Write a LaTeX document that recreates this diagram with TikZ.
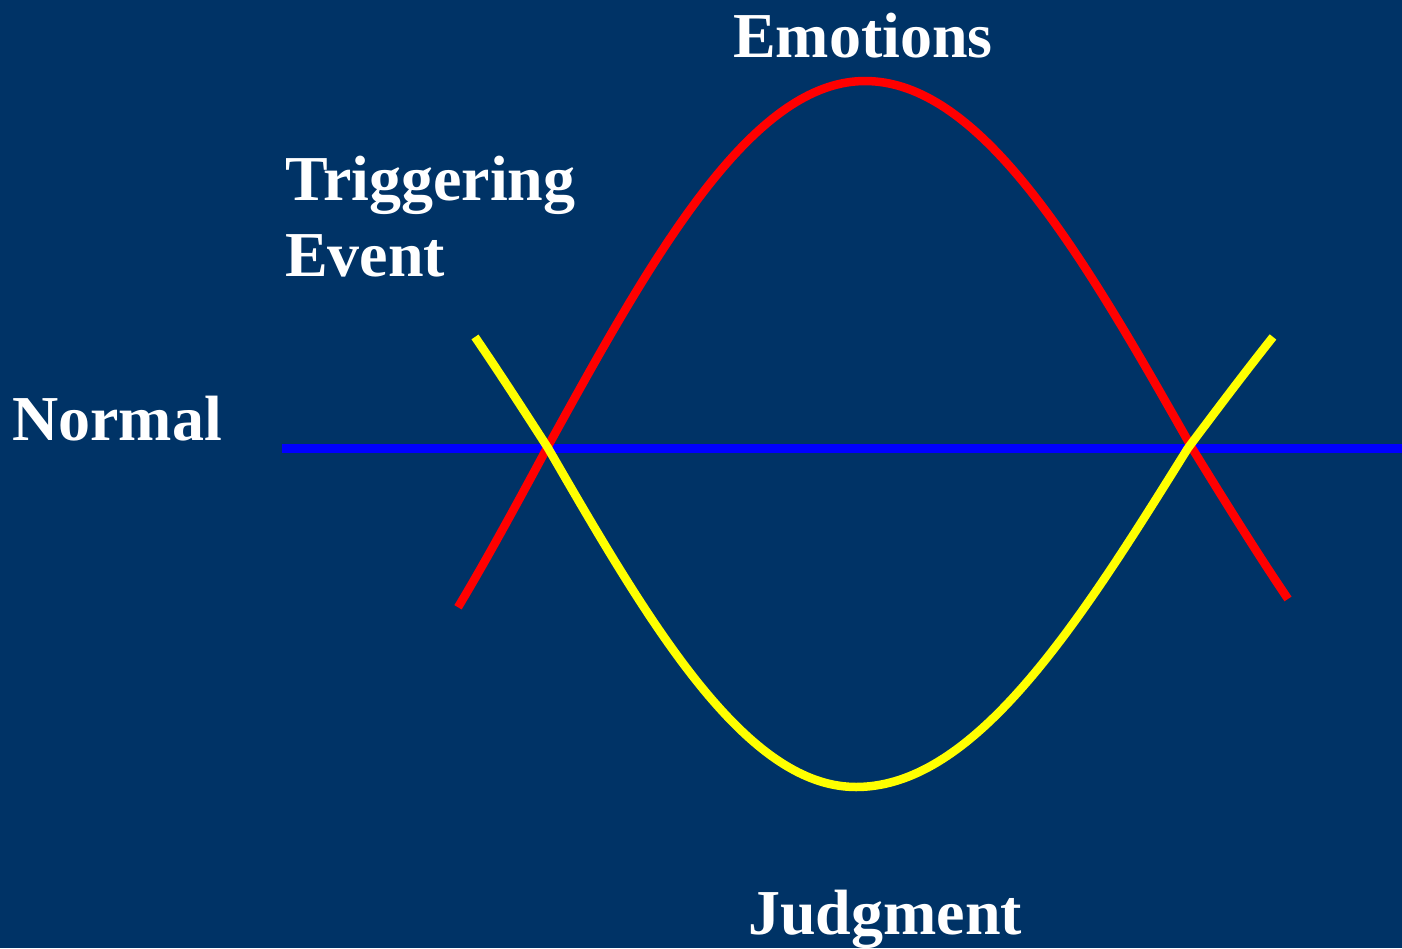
\documentclass[tikz,border=0pt]{standalone}
\usepackage{fontspec}
\setmainfont{Liberation Serif}
\definecolor{bgnavy}{RGB}{0,51,102}
\begin{document}
\begin{tikzpicture}[x=1pt,y=-1pt,
  lbl/.style={anchor=base west,inner sep=0pt,text=white,font=\bfseries\fontsize{64}{76}\selectfont,align=left},
  redline/.style={draw={rgb,255:red,255;green,0;blue,0},line width=8.5pt},
  yelline/.style={draw={rgb,255:red,255;green,255;blue,0},line width=8.5pt},
  blueline/.style={draw={rgb,255:red,0;green,0;blue,255},line width=9pt}]
\fill[bgnavy] (0,0) rectangle (1402,948);
\useasboundingbox (0,0) rectangle (1402,948);
% baseline
\draw[blueline] (282,448) -- (1402,448);
% emotions curve (red)
\draw[redline,line join=round]
  plot[domain=458:547,samples=30] (\x,{448-367*cos(90+0.289*(547-\x))})
  -- plot[domain=547:865,samples=70] (\x,{448-367*cos(0.28302*(\x-865))})
  -- plot[domain=865:1192,samples=70] (\x,{448-367*cos(0.27523*(\x-865))})
  -- plot[domain=1192:1288,samples=30] (\x,{448-367*cos(90+0.253*(\x-1192))});
% judgment curve (yellow)
\draw[yelline,line join=round]
  plot[domain=475:548,samples=30] (\x,{448+339*cos(90+0.262*(548-\x))})
  -- plot[domain=548:856,samples=70] (\x,{448+339*cos(0.29221*(\x-856))})
  -- plot[domain=856:1188,samples=70] (\x,{448+339*cos(0.27108*(\x-856))})
  -- plot[domain=1188:1273,samples=30] (\x,{448+339*cos(90+0.225*(\x-1188))});
% labels
\node[lbl] (emo) at (733,57) {Emotions};
\node[lbl] (trig) at (285,276) {Triggering\\Event};
\node[lbl] (norm) at (12,440) {Normal};
\node[lbl] (judg) at (748,934) {Judgment};
\end{tikzpicture}
\end{document}
